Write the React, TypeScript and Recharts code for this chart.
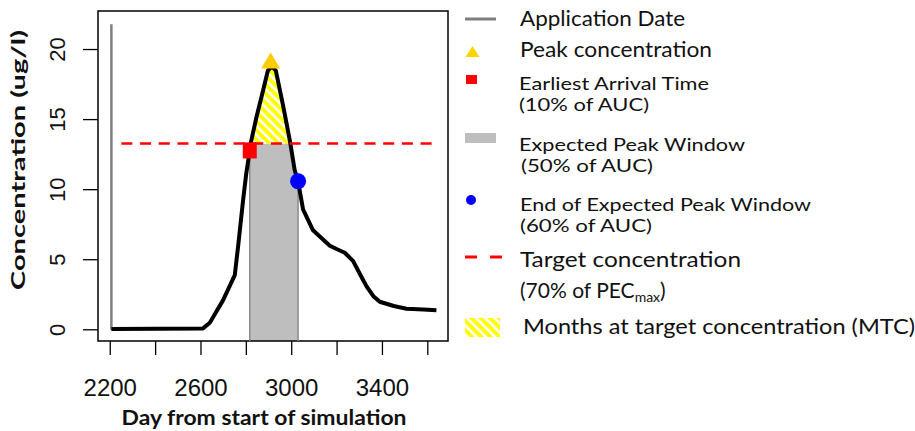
import React from "react";
import {
    ComposedChart,
    Line,
    Area,
    Scatter,
    XAxis,
    YAxis,
    ReferenceLine,
    ReferenceArea,
} from "recharts";

// simulated concentration curve (day, ug/l)
const days = [2205, 2609, 2639, 2668, 2697, 2749, 2764, 2786, 2800, 2815, 2819, 2845, 2874, 2895, 2912, 2930, 2962, 2980, 2994, 3013, 3028, 3050, 3094, 3168, 3200, 3234, 3271, 3300, 3330, 3360, 3388, 3450, 3506, 3580, 3638];
const conc = [0.05, 0.1, 0.5, 1.3, 2.1, 3.9, 6.0, 9.3, 11.2, 12.8, 13.3, 15.2, 17.1, 18.5, 18.8, 18.5, 16.0, 14.5, 13.3, 11.4, 10.6, 8.6, 7.1, 6.0, 5.75, 5.5, 4.9, 4.0, 3.1, 2.4, 2.0, 1.7, 1.5, 1.45, 1.4];

// expected peak window (grey, capped at target) and months at target concentration (hatched)
const windowConc = [null, null, null, null, null, null, null, null, null, 12.8, 13.3, 13.3, 13.3, 13.3, 13.3, 13.3, 13.3, 13.3, 13.3, 11.4, 10.6, null, null, null, null, null, null, null, null, null, null, null, null, null, null];
const mtcConc = [null, null, null, null, null, null, null, null, null, null, 13.3, 15.2, 17.1, 18.5, 18.8, 18.5, 16.0, 14.5, 13.3, null, null, null, null, null, null, null, null, null, null, null, null, null, null, null, null];

const applicationDay = 2205;
const applicationTop = 21.8;
const windowStart = 2815;
const windowEnd = 3028;
const targetConc = 13.3;
const targetFrom = 2249;
const targetTo = 3644;

const peakPoint = [{ day: 2907, conc: 19.0 }];
const earliestPoint = [{ day: 2815, conc: 12.8 }];
const endWindowPoint = [{ day: 3028, conc: 10.6 }];

const xTicks = [2200, 2400, 2600, 2800, 3000, 3200, 3400, 3600];
const xLabels = [2200, 2600, 3000, 3400];
const yTicks = [0, 5, 10, 15, 20];
const xDomain = [2146, 3689];
const yDomain = [-0.8, 22.75];

const legendLabels = [
    "Application Date",
    "Peak concentration",
    "Earliest Arrival Time",
    "(10% of AUC)",
    "Expected Peak Window",
    "(50% of AUC)",
    "End of Expected Peak Window",
    "(60% of AUC)",
    "Target concentration",
    "Months at target concentration (MTC)",
];

const data = days.map((d, i) => ({ day: d, conc: conc[i], win: windowConc[i], mtc: mtcConc[i] }));

const LEGEND_FONT = "Lato, Carlito, Calibri, sans-serif";
const AXIS_FONT = "'Liberation Sans', Arial, sans-serif";

const XTick = (props: any) => {
    const { x, y, payload } = props;
    if (!xLabels.includes(payload.value)) return null;
    return (
        <text x={x} y={y + 39} textAnchor="middle" fontSize={24} fontFamily={AXIS_FONT} fill="#111">
            {payload.value}
        </text>
    );
};

const YTick = (props: any) => {
    const { y, payload } = props;
    return (
        <text
            transform={`translate(65, ${y}) rotate(-90)`}
            textAnchor="middle"
            fontSize={22}
            fontFamily={AXIS_FONT}
            fill="#111"
        >
            {payload.value}
        </text>
    );
};

const LegendText = ({ x, y, size, len, children }: any) => (
    <text x={x} y={y} fontSize={size} fontFamily={LEGEND_FONT} fill="#111" textLength={len} lengthAdjust="spacingAndGlyphs">
        {children}
    </text>
);

const ChartLegend = () => (
    <g>
        <line x1={465} x2={496} y1={19} y2={19} stroke="#7f7f7f" strokeWidth={3} />
        <LegendText x={520} y={26} size={21} len={165}>{legendLabels[0]}</LegendText>

        <polygon points="472.5,46 479.5,57 465.5,57" fill="#FFD400" />
        <LegendText x={520} y={57} size={21} len={192}>{legendLabels[1]}</LegendText>

        <rect x={466} y={75} width={11} height={9} fill="#FF0000" />
        <LegendText x={519} y={90} size={17.5} len={190}>{legendLabels[2]}</LegendText>
        <LegendText x={519} y={111} size={17.5} len={130}>{legendLabels[3]}</LegendText>

        <rect x={465} y={133} width={31} height={10} fill="#BEBEBE" />
        <LegendText x={519} y={151} size={17.5} len={226}>{legendLabels[4]}</LegendText>
        <LegendText x={521} y={172} size={17.5} len={132}>{legendLabels[5]}</LegendText>

        <circle cx={471} cy={200} r={5} fill="#0000FF" />
        <LegendText x={520} y={211} size={17.5} len={291}>{legendLabels[6]}</LegendText>
        <LegendText x={520} y={232} size={17.5} len={132}>{legendLabels[7]}</LegendText>

        <line x1={465} x2={477} y1={257} y2={257} stroke="#FF0000" strokeWidth={3} />
        <line x1={490} x2={502} y1={257} y2={257} stroke="#FF0000" strokeWidth={3} />
        <LegendText x={520} y={267} size={21} len={221}>{legendLabels[8]}</LegendText>
        <text x={520} y={298} fontSize={21} fontFamily={LEGEND_FONT} fill="#111">
            (70% of PEC
            <tspan fontSize={14} dy={4}>max</tspan>
            <tspan dy={-4}>)</tspan>
        </text>

        <rect x={465} y={318} width={35} height={19} fill="url(#mtcHatch)" />
        <LegendText x={523} y={334} size={21} len={392}>{legendLabels[9]}</LegendText>
    </g>
);

const App: React.FC = () => {
    return (
        <div style={{ position: "absolute", left: 0, top: 0 }}>
            <ComposedChart
                width={915}
                height={431}
                data={data}
                margin={{ top: 11, right: 467, bottom: 0, left: 0 }}
            >
                <defs>
                    <pattern id="mtcHatch" patternUnits="userSpaceOnUse" width={6.5} height={6.5} patternTransform="rotate(-45)">
                        <rect x={0} y={0} width={6.5} height={6.5} fill="#FFFF00" />
                        <rect x={0} y={0} width={2.6} height={6.5} fill="#FFFFFF" />
                    </pattern>
                </defs>
                <XAxis
                    dataKey="day"
                    type="number"
                    domain={xDomain}
                    ticks={xTicks}
                    allowDataOverflow
                    height={90}
                    axisLine={false}
                    tickSize={14}
                    tickLine={{ stroke: "#000", strokeWidth: 1.3 }}
                    tick={<XTick />}
                />
                <YAxis
                    type="number"
                    domain={yDomain}
                    ticks={yTicks}
                    allowDataOverflow
                    width={98}
                    axisLine={false}
                    tickSize={15}
                    tickLine={{ stroke: "#000", strokeWidth: 1.3 }}
                    tick={<YTick />}
                />
                <Area
                    type="linear"
                    dataKey="win"
                    baseValue={yDomain[0]}
                    fill="#BEBEBE"
                    fillOpacity={1}
                    stroke="none"
                    isAnimationActive={false}
                />
                <Area
                    type="linear"
                    dataKey="mtc"
                    baseValue={targetConc}
                    fill="url(#mtcHatch)"
                    fillOpacity={1}
                    stroke="none"
                    isAnimationActive={false}
                />
                <ReferenceLine
                    segment={[{ x: windowStart, y: yDomain[0] }, { x: windowStart, y: 12.8 }]}
                    stroke="#8a8a8a"
                    strokeWidth={1.5}
                />
                <ReferenceLine
                    segment={[{ x: windowEnd, y: yDomain[0] }, { x: windowEnd, y: 10.6 }]}
                    stroke="#8a8a8a"
                    strokeWidth={1.5}
                />
                <ReferenceLine
                    segment={[{ x: applicationDay, y: 0 }, { x: applicationDay, y: applicationTop }]}
                    stroke="#7f7f7f"
                    strokeWidth={2.5}
                />
                <Line
                    type="linear"
                    dataKey="conc"
                    stroke="#000"
                    strokeWidth={4}
                    strokeLinejoin="round"
                    dot={false}
                    activeDot={false}
                    isAnimationActive={false}
                />
                <ReferenceLine
                    segment={[{ x: targetFrom, y: targetConc }, { x: targetTo, y: targetConc }]}
                    stroke="#FF0000"
                    strokeWidth={2.5}
                    strokeDasharray="11 7.7"
                />
                <Scatter
                    data={peakPoint}
                    dataKey="conc"
                    isAnimationActive={false}
                    shape={(p: any) => (
                        <polygon points={`${p.cx},${p.cy - 11} ${p.cx + 9.5},${p.cy + 5} ${p.cx - 9.5},${p.cy + 5}`} fill="#FFCC00" />
                    )}
                />
                <Scatter
                    data={earliestPoint}
                    dataKey="conc"
                    isAnimationActive={false}
                    shape={(p: any) => <rect x={p.cx - 7} y={p.cy - 8} width={14} height={16} fill="#FF0000" />}
                />
                <Scatter
                    data={endWindowPoint}
                    dataKey="conc"
                    isAnimationActive={false}
                    shape={(p: any) => <circle cx={p.cx} cy={p.cy} r={8} fill="#0000FF" />}
                />
                <ReferenceArea
                    x1={xDomain[0]}
                    x2={xDomain[1]}
                    y1={yDomain[0]}
                    y2={yDomain[1]}
                    fill="none"
                    stroke="#000"
                    strokeWidth={1.5}
                    ifOverflow="visible"
                />
                <text x={264} y={425} textAnchor="middle" fontSize={20} fontWeight="bold" fontFamily={LEGEND_FONT} fill="#111" textLength={285} lengthAdjust="spacingAndGlyphs">
                    Day from start of simulation
                </text>
                <text transform="translate(25, 160) rotate(-90)" textAnchor="middle" fontSize={18} fontWeight="bold" fontFamily={LEGEND_FONT} fill="#111" textLength={260} lengthAdjust="spacingAndGlyphs">
                    Concentration (ug/l)
                </text>
                <ChartLegend />
            </ComposedChart>
        </div>
    );
};

export default App;
